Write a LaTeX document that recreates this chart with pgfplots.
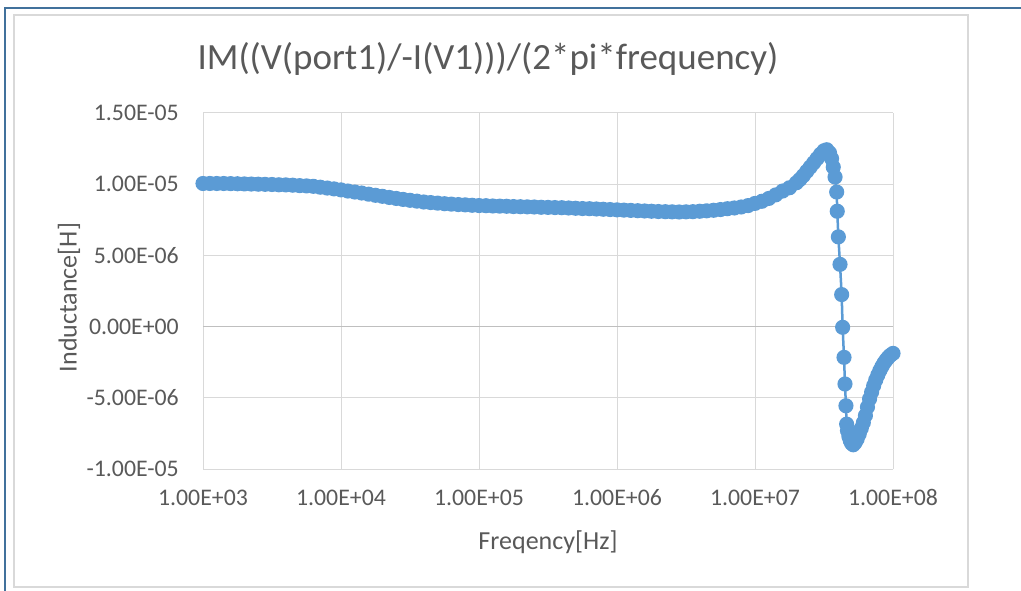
\documentclass[border=0pt]{standalone}
\usepackage{pgfplots}
\pgfplotsset{compat=1.18}
\usepackage{fontspec}
\setmainfont{Carlito}
\definecolor{xlblue}{HTML}{5B9BD5}
\definecolor{xlgrid}{HTML}{D9D9D9}
\definecolor{xltext}{HTML}{595959}
\definecolor{xlaxis}{HTML}{BFBFBF}
\definecolor{xlframe}{HTML}{41719C}

\pgfplotstableread{
f L
1.000e3 10.05e-6
1.122e3 10.05e-6
1.259e3 10.05e-6
1.413e3 10.05e-6
1.585e3 10.04e-6
1.778e3 10.03e-6
1.995e3 10.02e-6
2.239e3 10.01e-6
2.512e3 10.00e-6
2.818e3 9.99e-6
3.162e3 9.98e-6
3.548e3 9.96e-6
3.981e3 9.95e-6
4.467e3 9.93e-6
5.012e3 9.90e-6
5.623e3 9.88e-6
6.310e3 9.85e-6
7.079e3 9.79e-6
7.943e3 9.73e-6
8.913e3 9.67e-6
1.000e4 9.60e-6
1.122e4 9.52e-6
1.259e4 9.45e-6
1.413e4 9.38e-6
1.585e4 9.30e-6
1.778e4 9.22e-6
1.995e4 9.15e-6
2.239e4 9.07e-6
2.512e4 9.00e-6
2.818e4 8.93e-6
3.162e4 8.87e-6
3.548e4 8.81e-6
3.981e4 8.75e-6
4.467e4 8.71e-6
5.012e4 8.67e-6
5.623e4 8.63e-6
6.310e4 8.60e-6
7.079e4 8.57e-6
7.943e4 8.55e-6
8.913e4 8.52e-6
1.000e5 8.50e-6
1.122e5 8.49e-6
1.259e5 8.47e-6
1.413e5 8.46e-6
1.585e5 8.45e-6
1.778e5 8.43e-6
1.995e5 8.42e-6
2.239e5 8.41e-6
2.512e5 8.40e-6
2.818e5 8.38e-6
3.162e5 8.37e-6
3.548e5 8.36e-6
3.981e5 8.35e-6
4.467e5 8.33e-6
5.012e5 8.31e-6
5.623e5 8.29e-6
6.310e5 8.28e-6
7.079e5 8.26e-6
7.943e5 8.24e-6
8.913e5 8.22e-6
1.000e6 8.20e-6
1.122e6 8.18e-6
1.259e6 8.16e-6
1.413e6 8.14e-6
1.585e6 8.12e-6
1.778e6 8.10e-6
1.995e6 8.08e-6
2.239e6 8.07e-6
2.512e6 8.06e-6
2.818e6 8.05e-6
3.162e6 8.06e-6
3.548e6 8.07e-6
3.981e6 8.10e-6
4.467e6 8.13e-6
5.012e6 8.17e-6
5.623e6 8.22e-6
6.310e6 8.28e-6
7.079e6 8.33e-6
7.943e6 8.40e-6
8.913e6 8.50e-6
1.000e7 8.65e-6
1.122e7 8.80e-6
1.259e7 9.00e-6
1.413e7 9.25e-6
1.585e7 9.52e-6
1.778e7 9.75e-6
1.995e7 10.10e-6
2.113e7 10.33e-6
2.239e7 10.60e-6
2.371e7 10.90e-6
2.512e7 11.20e-6
2.661e7 11.50e-6
2.818e7 11.80e-6
2.985e7 12.10e-6
3.162e7 12.35e-6
3.311e7 12.42e-6
3.467e7 12.20e-6
3.589e7 11.80e-6
3.690e7 11.20e-6
3.802e7 10.50e-6
3.908e7 9.45e-6
3.945e7 8.10e-6
4.018e7 6.30e-6
4.130e7 4.37e-6
4.246e7 2.25e-6
4.315e7 -0.05e-6
4.416e7 -2.16e-6
4.487e7 -4.03e-6
4.560e7 -5.56e-6
4.613e7 -6.85e-6
4.677e7 -7.30e-6
4.786e7 -7.70e-6
4.898e7 -8.00e-6
5.012e7 -8.20e-6
5.152e7 -8.30e-6
5.309e7 -8.15e-6
5.495e7 -7.90e-6
5.689e7 -7.55e-6
5.888e7 -7.15e-6
6.095e7 -6.75e-6
6.310e7 -6.25e-6
6.531e7 -5.65e-6
6.761e7 -5.08e-6
6.998e7 -4.60e-6
7.244e7 -4.15e-6
7.499e7 -3.75e-6
7.762e7 -3.40e-6
8.035e7 -3.08e-6
8.318e7 -2.80e-6
8.610e7 -2.55e-6
8.913e7 -2.35e-6
9.226e7 -2.17e-6
9.550e7 -2.02e-6
1.000e8 -1.88e-6
}\inductance

\begin{document}
\begin{tikzpicture}[x=1pt,y=1pt]
\useasboundingbox (0,0) rectangle (1021,590);
\draw[xlgrid, line width=1.5pt] (14,3) rectangle (968,575);
\draw[xlframe, line width=2pt] (5,-2) -- (5,582) -- (1023,582);
\begin{axis}[
  at={(203pt,121pt)}, anchor=south west,
  scale only axis, width=690pt, height=356pt,
  xmode=log, xmin=1e3, xmax=1e8,
  ymin=-1e-5, ymax=1.5e-5,
  xtick={1e3,1e4,1e5,1e6,1e7,1e8},
  xticklabels={1.00E+03,1.00E+04,1.00E+05,1.00E+06,1.00E+07,1.00E+08},
  ytick={-1e-5,-5e-6,0,5e-6,1e-5,1.5e-5},
  yticklabels={-1.00E-05,-5.00E-06,0.00E+00,5.00E-06,1.00E-05,1.50E-05},
  scaled y ticks=false,
  xminorticks=false, yminorticks=false,
  grid=major, grid style={xlgrid, line width=1pt},
  axis line style={draw=none},
  major tick length=0pt,
  tick label style={font=\fontsize{23.8}{28}\selectfont, text=xltext, inner sep=0pt},
  xticklabel style={yshift=-20.5pt},
  yticklabel style={xshift=-24pt},
  clip=false,
]
\draw[xlaxis, line width=1pt] (axis cs:1e3,0) -- (axis cs:1e8,0);
\addplot[xlblue, line width=2.5pt, mark=*, mark size=6.3pt,
  mark options={draw=none, fill=xlblue}] table[x=f, y=L] {\inductance};
\end{axis}
\node[anchor=base, text=xltext, font=\fontsize{37}{44}\selectfont] at (488,520) {IM((V(port1)/-I(V1)))/(2*pi*frequency)};
\node[anchor=base, text=xltext, font=\fontsize{26}{31}\selectfont] at (548,40.7) {Freqency[Hz]};
\node[anchor=base, rotate=90, text=xltext, font=\fontsize{26}{31}\selectfont] at (76.7,292.5) {Inductance[H]};
\end{tikzpicture}
\end{document}
